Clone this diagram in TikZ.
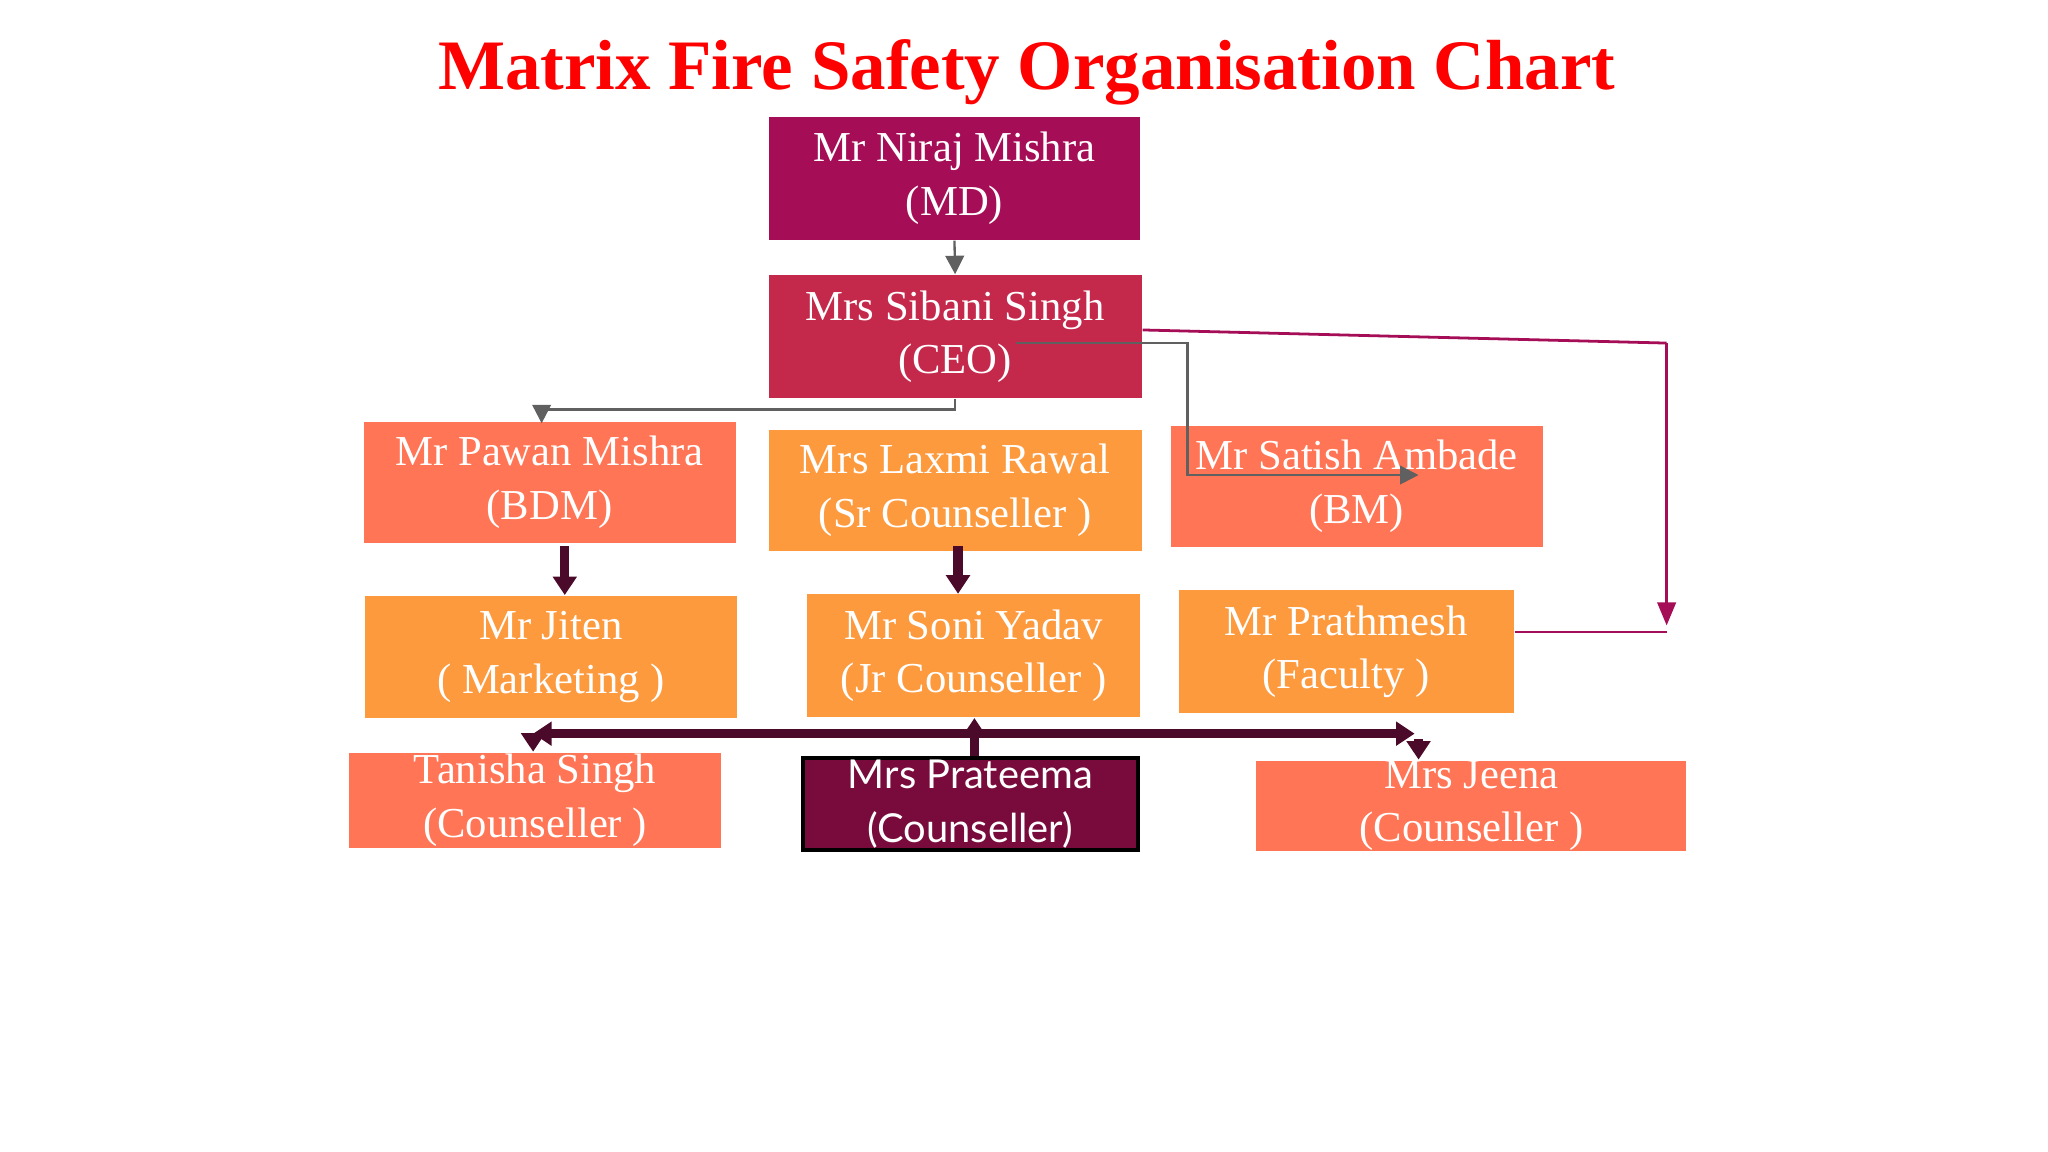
\documentclass[tikz,border=0pt]{standalone}
\usepackage{fontspec}
\setmainfont{Liberation Serif}
\newfontfamily\lato{Lato}
\usetikzlibrary{arrows.meta}
\definecolor{mdred}{HTML}{A50D57}
\definecolor{ceored}{HTML}{C4284B}
\definecolor{coral}{HTML}{FF7555}
\definecolor{orng}{HTML}{FD9A3E}
\definecolor{plum}{HTML}{780A3C}
\definecolor{dline}{HTML}{4B0A2A}
\definecolor{gline}{HTML}{606060}
\tikzset{
  box/.style={anchor=north west, inner sep=0pt, text=white, align=center,
    font=\fontsize{9.2}{11.5}\selectfont},
  thin/.style={draw=gline, line width=0.5pt, -{Triangle[length=4pt,width=4pt]}},
  thick/.style={draw=dline, line width=2pt, -{Triangle[length=4pt,width=5pt]}}
}
\newcommand{\orgbox}[6]{% name, x1, y1, x2, y2, colour
  \node[box, fill=#6, minimum width={(#4-#2)*0.01cm}, minimum height={(#5-#3)*0.01cm}]
    (#1) at (#2*0.01, -#3*0.01)}
\begin{document}
\begin{tikzpicture}
\useasboundingbox (0,0) rectangle (15.52,-8.73);
\node[text=red, font=\fontsize{15.3}{18}\selectfont\bfseries] (title) at (7.78,-0.55)
  {Matrix Fire Safety Organisation Chart};
% top management
\orgbox{md}{582}{88}{864}{181}{mdred} {Mr Niraj Mishra\\(MD)};
\orgbox{ceo}{582}{208}{865}{301}{ceored} {Mrs Sibani Singh\\(CEO)};
% middle row
\orgbox{bdm}{275}{319}{557}{411}{coral} {Mr Pawan Mishra\\(BDM)};
\orgbox{laxmi}{582}{325}{865}{417}{orng} {Mrs Laxmi Rawal\\(Sr Counseller )};
\orgbox{bm}{887}{322}{1169}{414}{coral} {Mr Satish Ambade\\(BM)};
\orgbox{jiten}{276}{451}{558}{544}{orng} {Mr Jiten\\( Marketing )};
\orgbox{soni}{611}{450}{864}{543}{orng} {Mr Soni Yadav\\(Jr Counseller )};
\orgbox{prath}{893}{447}{1147}{540}{orng} {Mr Prathmesh\\(Faculty )};
% counsellers
\orgbox{tanisha}{264}{570}{546}{642}{coral} {Tanisha Singh\\(Counseller )};
\node[box, fill=plum, draw=black, line width=0.8pt, minimum width=2.54cm, minimum height=0.70cm,
  font=\lato\fontsize{8.6}{11.5}\selectfont] (prateema) at (6.07,-5.73) {Mrs Prateema\\(Counseller)};
\orgbox{jeena}{952}{576}{1278}{642}{coral} {Mrs Jeena\\(Counseller )};
% connectors
\coordinate (c1) at (7.70,-2.60);
\coordinate (b1) at (10.75,-3.60);
\coordinate (r1) at (12.63,-4.74);
\coordinate (busl) at (4.04,-5.56);
\coordinate (busr) at (10.72,-5.56);
\draw[thin] (md.south) -- (ceo.north);
\draw[thin] (ceo.south) -- ++(0,-0.08) -| ([xshift=-0.06cm,yshift=-0.02cm]bdm.north);
\draw[thin] (c1) -| (9.00,-3.60) -- (b1);
\draw[draw=mdred, line width=0.6pt] ([yshift=0.05cm]ceo.east) -- (12.63,-2.60);
\draw[draw=mdred, line width=0.6pt, -{Triangle[length=5pt,width=4pt]}] (12.63,-2.60) -- (r1);
\draw[draw=mdred, line width=0.6pt] (prath.east |- 0,-4.79) -- (12.63,-4.79);
\draw[thick] (4.28,-4.14) -- (4.28,-4.51);
\draw[thick] (7.26,-4.14) -- (7.26,-4.50);
\draw[thick, {Triangle[length=4pt,width=5pt]}-{Triangle[length=4pt,width=5pt]}] (busl) -- (busr);
\draw[thick] (busl) -- (busl |- tanisha.north);
\draw[thick] ([xshift=0.03cm]prateema.north) -- ([xshift=0.03cm]prateema.north |- soni.south);
\draw[thick] (10.75,-5.60) -- (jeena.north -| 10.75,0);
\end{tikzpicture}
\end{document}
